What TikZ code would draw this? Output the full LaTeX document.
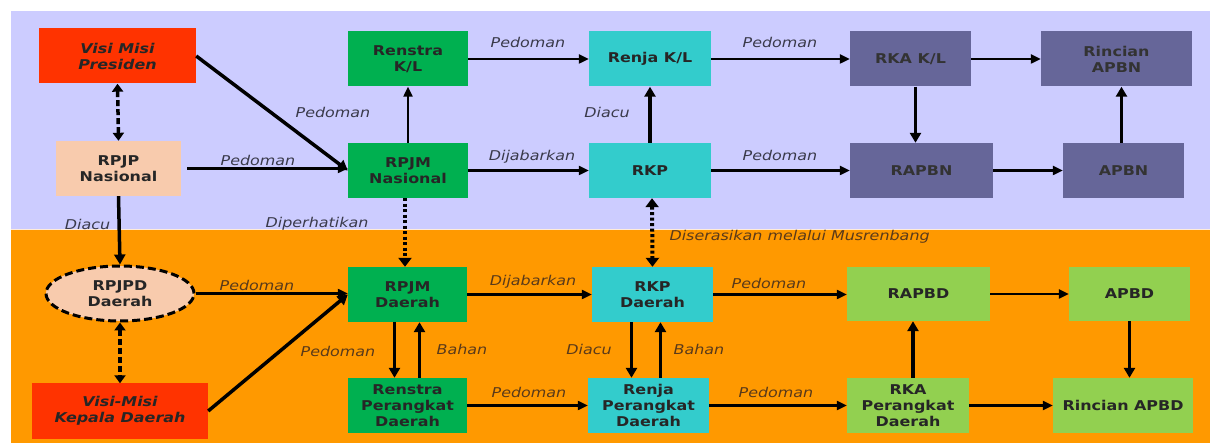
\documentclass[tikz,border=0pt]{standalone}
\usepackage{fontspec}
\setmainfont{DejaVu Sans}[FakeStretch=1.18]
\usetikzlibrary{arrows.meta,shapes.geometric}
\definecolor{lavbg}{HTML}{CCCCFF}
\definecolor{orgbg}{HTML}{FF9900}
\definecolor{redbox}{HTML}{FF3300}
\definecolor{peach}{HTML}{F8CBAD}
\definecolor{greenbox}{HTML}{00B050}
\definecolor{cyanbox}{HTML}{33CCCC}
\definecolor{purplebox}{HTML}{666699}
\definecolor{limebox}{HTML}{92D050}
\definecolor{nodetxt}{HTML}{262626}
\definecolor{lbltop}{HTML}{3A3A4A}
\definecolor{lblbot}{HTML}{5A3A1A}

\begin{document}
\begin{tikzpicture}[x=1pt, y=-1pt,
    box/.style={minimum height=55pt, inner sep=0pt, align=center, text=nodetxt,
                font=\fontsize{13.5}{16}\selectfont\bfseries},
    lbl/.style={font=\fontsize{13.5}{16}\selectfont\itshape, text=lbltop},
    lblb/.style={lbl, text=lblbot},
    arr/.style={line width=2.2pt, -{Triangle[length=10pt,width=9pt]}},
    arrb/.style={line width=3.5pt, -{Triangle[length=10pt,width=11pt]}},
    dotarr/.style={line width=4pt, dash pattern=on 3pt off 2.5pt},
    dasharr/.style={line width=3.5pt, dash pattern=on 6pt off 3pt}]
    \useasboundingbox (0,0) rectangle (1210,443);
    \fill[white] (0,0) rectangle (1210,443);
    \fill[lavbg] (11,11) rectangle (1210,229);
    \fill[orgbg] (11,230) rectangle (1210,443);
    \draw[white!85!orange, line width=1pt] (11,229.5) -- (1210,229.5);

    % pusat
    \node[box, fill=redbox, minimum width=157pt, font=\fontsize{13.5}{16}\selectfont\bfseries\itshape] (vmp) at (117.5,56) {Visi Misi\\Presiden};
    \node[box, fill=peach, minimum width=125pt] (rpjp) at (118.5,168.5) {RPJP\\Nasional};
    \node[box, fill=greenbox, minimum width=120pt] (renstrakl) at (408,59) {Renstra\\K/L};
    \node[box, fill=greenbox, minimum width=120pt] (rpjmn) at (408,170.5) {RPJM\\Nasional};
    \node[box, fill=cyanbox, minimum width=122pt] (renjakl) at (650,59) {Renja K/L};
    \node[box, fill=cyanbox, minimum width=122pt] (rkp) at (650,170.5) {RKP};
    \node[box, fill=purplebox, minimum width=121pt, text=black!80] (rkakl) at (910.5,59) {RKA K/L};
    \node[box, fill=purplebox, minimum width=151pt, text=black!80] (rincianapbn) at (1116.5,59) {Rincian\\APBN};
    \node[box, fill=purplebox, minimum width=143pt, text=black!80] (rapbn) at (921.5,170.5) {RAPBN};
    \node[box, fill=purplebox, minimum width=121pt, text=black!80] (apbn) at (1123.5,170.5) {APBN};

    % daerah
    \node[box, ellipse, draw=black, line width=3pt, dash pattern=on 8pt off 4pt, fill=peach,
          minimum width=148pt, minimum height=55pt] (rpjpd) at (120,293.5) {RPJPD\\Daerah};
    \node[box, fill=redbox, minimum width=176pt, font=\fontsize{13.5}{16}\selectfont\bfseries\itshape] (vmkd) at (120,411) {Visi-Misi\\Kepala Daerah};
    \node[box, fill=greenbox, minimum width=119pt] (rpjmd) at (407.5,294.5) {RPJM\\Daerah};
    \node[box, fill=greenbox, minimum width=119pt] (renstrapd) at (407.5,405.5) {Renstra\\Perangkat\\Daerah};
    \node[box, fill=cyanbox, minimum width=121pt] (rkpd) at (652.5,294.5) {RKP\\Daerah};
    \node[box, fill=cyanbox, minimum width=121pt] (renjapd) at (648.5,405.5) {Renja\\Perangkat\\Daerah};
    \node[box, fill=limebox, minimum width=143pt, minimum height=54pt] (rapbd) at (918.5,294) {RAPBD};
    \node[box, fill=limebox, minimum width=121pt, minimum height=54pt] (apbd) at (1129.5,294) {APBD};
    \node[box, fill=limebox, minimum width=122pt] (rkapd) at (908,405.5) {RKA\\Perangkat\\Daerah};
    \node[box, fill=limebox, minimum width=140pt] (rincianapbd) at (1123,405.5) {Rincian APBD};

    % panah pusat
    \draw[dasharr, {Triangle[length=8pt,width=11pt]}-{Triangle[length=8pt,width=11pt]}] (vmp.south) -- (rpjp.north);
    \draw[arrb] (vmp.east) -- (rpjmn.west);
    \draw[arr] ([xshift=6pt]rpjp.east) -- (rpjp.east -| rpjmn.west);
    \draw[arrb] (rpjp.south) -- (rpjpd.north);
    \draw[arr] (rpjmn.north) -- (renstrakl.south);
    \draw[arr] (renstrakl.east) -- (renjakl.west);
    \draw[arr] (rpjmn.east) -- (rkp.west);
    \draw[arrb] (rkp.north) -- (renjakl.south);
    \draw[arr] (renjakl.east) -- (rkakl.west);
    \draw[arr] (rkakl.east) -- (rincianapbn.west);
    \draw[arr] (rkp.east) -- (rapbn.west);
    \draw[arrb] ([xshift=5pt]rkakl.south) -- ([xshift=5pt]rkakl.south |- rapbn.north);
    \draw[arr] (rapbn.east) -- (apbn.west);
    \draw[arrb] ([xshift=-2pt]apbn.north) -- ([xshift=-2pt]apbn.north |- rincianapbn.south);

    % pusat ke daerah
    \draw[dotarr, -{Triangle[length=9pt,width=13pt]}] ([xshift=-3pt]rpjmn.south) -- ([xshift=-3pt]rpjmn.south |- rpjmd.north);
    \draw[dotarr, {Triangle[length=9pt,width=13pt]}-{Triangle[length=9pt,width=13pt]}] ([xshift=2pt]rkp.south) -- (rkpd.north);

    % panah daerah
    \draw[dasharr, {Triangle[length=8pt,width=11pt]}-{Triangle[length=8pt,width=11pt]}] (rpjpd.south) -- (vmkd.north);
    \draw[arr] (rpjpd.east) -- (rpjpd.east -| rpjmd.west);
    \draw[arrb] (vmkd.east) -- (rpjmd.west);
    \draw[arrb] ([xshift=-13pt]rpjmd.south) -- ([xshift=-13pt]renstrapd.north);
    \draw[arrb] ([xshift=12pt]renstrapd.north) -- ([xshift=12pt]rpjmd.south);
    \draw[arr] (rpjmd.east) -- (rkpd.west);
    \draw[arrb] ([xshift=-21pt]rkpd.south) -- ([xshift=-21pt]rkpd.south |- renjapd.north);
    \draw[arrb] ([xshift=8pt]rkpd.south |- renjapd.north) -- ([xshift=8pt]rkpd.south);
    \draw[arr] (renstrapd.east) -- (renjapd.west);
    \draw[arr] (rkpd.east) -- (rkpd.east -| rapbd.west);
    \draw[arr] (renjapd.east) -- (rkapd.west);
    \draw[arr] (rapbd.east) -- (apbd.west);
    \draw[arrb] ([xshift=5pt]rkapd.north) -- ([xshift=5pt]rkapd.north |- rapbd.south);
    \draw[arr] (rkapd.east) -- (rincianapbd.west);
    \draw[arrb] (apbd.south) -- (apbd.south |- rincianapbd.north);

    % keterangan
    \node[lbl] (l1) at (333,112) {Pedoman};
    \node[lbl] (l2) at (258,160) {Pedoman};
    \node[lbl] (l3) at (87.5,224) {Diacu};
    \node[lbl] (l4) at (317,224) {Diperhatikan};
    \node[lbl] (l5) at (528,42) {Pedoman};
    \node[lbl] (l6) at (532,157) {Dijabarkan};
    \node[lbl] (l7) at (607,112) {Diacu};
    \node[lbl] (l8) at (780,42) {Pedoman};
    \node[lbl] (l9) at (780,155) {Pedoman};
    \node[lblb, anchor=west] (l10) at (666,237) {Diserasikan melalui Musrenbang};
    \node[lblb] (l11) at (257,285) {Pedoman};
    \node[lblb] (l12) at (338,351) {Pedoman};
    \node[lblb] (l13) at (533,282) {Dijabarkan};
    \node[lblb] (l14) at (462,349) {Bahan};
    \node[lblb] (l15) at (589,349) {Diacu};
    \node[lblb] (l16) at (699,349) {Bahan};
    \node[lblb] (l17) at (529,392) {Pedoman};
    \node[lblb] (l18) at (769,283) {Pedoman};
    \node[lblb] (l19) at (776,392) {Pedoman};
\end{tikzpicture}
\end{document}
